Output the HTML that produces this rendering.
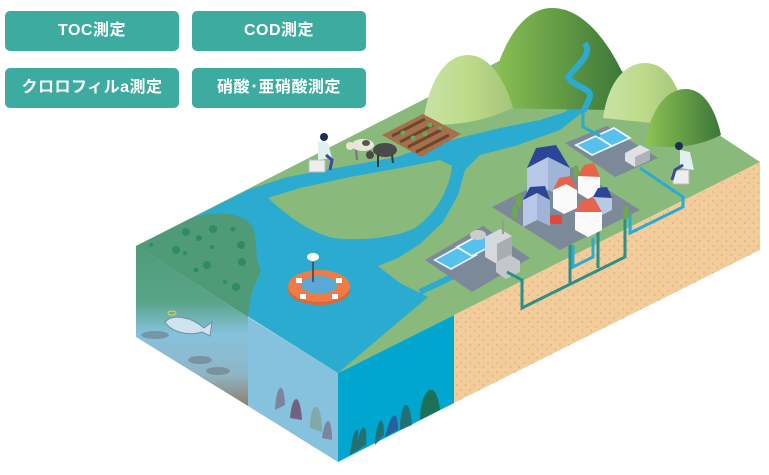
<!DOCTYPE html>
<html><head><meta charset="utf-8">
<style>
html,body{margin:0;padding:0;background:#fff;}
body{width:769px;height:475px;position:relative;overflow:hidden;font-family:"Liberation Sans","Noto Sans CJK JP",sans-serif;}
.b{position:absolute;width:174px;height:40px;background:#3eaba0;border-radius:5px;color:#fff;font-weight:bold;font-size:16px;line-height:40px;text-align:center;letter-spacing:0.5px;}
svg{position:absolute;left:0;top:0;}
</style></head><body>
<svg width="769" height="475" viewBox="0 0 769 475">
<defs>
<linearGradient id="lf" x1="0" y1="0" x2="0" y2="1">
<stop offset="0" stop-color="#4e9a78"/><stop offset="0.35" stop-color="#5aa48a"/><stop offset="0.55" stop-color="#86c2dd"/><stop offset="0.8" stop-color="#8fb6c6"/><stop offset="1" stop-color="#8d806c"/></linearGradient>
<linearGradient id="md" x1="0" y1="0" x2="1" y2="0"><stop offset="0" stop-color="#8fc455"/><stop offset="1" stop-color="#3b7638"/></linearGradient>
<linearGradient id="ml" x1="0" y1="0" x2="1" y2="0"><stop offset="0" stop-color="#c9e2a6"/><stop offset="0.5" stop-color="#bedb8a"/><stop offset="1" stop-color="#a5c47a"/></linearGradient>
<pattern id="dots" width="9" height="9" patternUnits="userSpaceOnUse"><rect width="9" height="9" fill="#f3cc9c"/><circle cx="2" cy="3" r="0.6" fill="#c8946a"/><circle cx="6.5" cy="7" r="0.6" fill="#c8946a"/></pattern>
</defs>
<!-- faces -->
<polygon points="136,246 248,317 248,406 136,337" fill="url(#lf)"/>
<polygon points="248,317 338,373 338,462 248,406" fill="#86c2de"/>
<polygon points="338,373 454,315 454,403 338,462" fill="#00a6cd"/>
<polygon points="454,315 760,162 760,250 454,403" fill="url(#dots)"/>
<!-- top face -->
<polygon points="136,246 560,30 760,162 454,315 338,373" fill="#8aba7b"/>
<!-- water -->
<path d="M136,246 L250,189 L287,177 L347,166 L397,157 L425,147 L463,137 L500,128 L540,120 L565,112 L578,100 L590,100 L583,112 L560,130 L515,146 L480,155 L465,170 L458,195 L443,222 L420,244 L398,258 L378,266 L400,283 L428,297 L338,373 Z" fill="#2babd0"/>
<path d="M420,292 L470,268" stroke="#2babd0" stroke-width="6" fill="none"/>
<!-- leaf land -->
<path d="M268,198 L300,188 L350,177 L400,168 L440,160 L452,166 C450,185 440,210 415,228 C395,238 360,241 333,238 C310,232 290,218 268,198 Z" fill="#8aba7b"/>
<!-- seaweed lagoon -->
<path d="M136,246 L192,218 C215,210 245,212 253,228 C258,240 254,255 260,268 C262,278 250,282 248,317 Z" fill="#4f9b78"/>
<g fill="#2e8a68"><circle cx="186" cy="232" r="4"/><circle cx="213" cy="229" r="4"/><circle cx="233" cy="229" r="2.5"/><circle cx="176" cy="250" r="4"/><circle cx="199" cy="238" r="3"/><circle cx="212" cy="247" r="2"/><circle cx="241" cy="245" r="4"/><circle cx="207" cy="265" r="4"/><circle cx="242" cy="262" r="4"/><circle cx="196" cy="270" r="2.5"/><circle cx="236" cy="287" r="4"/><circle cx="225" cy="282" r="2"/><circle cx="151" cy="245" r="2"/><circle cx="185" cy="253" r="2"/></g>
<!-- mountains -->
<path d="M487,108 C498,45 522,8 552,8 C585,8 610,45 625,78 L610,110 Z" fill="url(#md)"/>
<path d="M585,43 C593,55 576,66 568,77 C572,86 591,88 590,96 C588,104 584,108 583,112" stroke="#2babd0" stroke-width="6" fill="none"/>
<path d="M423,124 C428,82 445,55 468,55 C490,55 506,82 513,108 Q470,128 423,124 Z" fill="url(#ml)"/>
<path d="M603,118 C608,82 625,63 645,63 C665,63 676,82 682,102 L672,125 Z" fill="url(#ml)"/>
<path d="M645,145 C650,110 666,89 686,89 C705,89 716,112 721,135 Q688,152 645,145 Z" fill="url(#md)"/>
<!-- farm -->
<polygon points="382,135 423,114 461,134 421,157" fill="#a5714c"/>
<g stroke="#6d4630" stroke-width="3"><line x1="392" y1="136" x2="425" y2="119"/><line x1="400" y1="142" x2="433" y2="125"/><line x1="408" y1="147" x2="441" y2="130"/><line x1="416" y1="152" x2="449" y2="135"/></g>
<g fill="#5cae5c"><circle cx="403" cy="133" r="2.5"/><circle cx="413" cy="138" r="2.5"/><circle cx="425" cy="134" r="2.5"/><circle cx="430" cy="125" r="2.5"/><circle cx="440" cy="128" r="2"/></g>
<!-- cows -->
<ellipse cx="363" cy="145" rx="11" ry="6" fill="#e8e6d8"/><circle cx="350" cy="146" r="4" fill="#e8e6d8"/><ellipse cx="366" cy="143" rx="4" ry="3" fill="#555"/>
<g stroke="#777" stroke-width="2"><line x1="356" y1="150" x2="357" y2="160"/><line x1="370" y1="150" x2="371" y2="158"/></g>
<ellipse cx="385" cy="150" rx="12" ry="7" fill="#4a4a4a"/><circle cx="370" cy="155" r="4" fill="#4a4a4a"/>
<g stroke="#3a3a3a" stroke-width="2"><line x1="378" y1="155" x2="378" y2="167"/><line x1="392" y1="155" x2="393" y2="163"/></g>
<!-- left person -->
<rect x="309" y="160" width="16" height="12" fill="#eee" stroke="#bbb"/><path d="M318,141 L328,143 L332,158 L318,160 Z" fill="#dff0ef"/><circle cx="324" cy="137" r="4" fill="#1e2d55"/><path d="M326,155 L332,160 L330,170" stroke="#3d4a9a" stroke-width="3" fill="none"/>
<!-- factory -->
<polygon points="425,260 483,226 530,258 472,292" fill="#7c8998"/>
<polygon points="433,260 460,245 478,255 451,270" fill="#e8f4fb"/><polygon points="436,260 460,247 475,255 451,268" fill="#58c0ec"/>
<polygon points="455,247 481,233 498,243 472,257" fill="#e8f4fb"/><polygon points="459,247 481,235 495,243 472,255" fill="#58c0ec"/>
<ellipse cx="478" cy="235" rx="8" ry="5" fill="#ccc"/><polygon points="485,237 500,229 512,236 512,256 497,264 485,257" fill="#d5d9de"/><polygon points="497,264 512,256 512,236 497,244" fill="#a8adb3"/><rect x="502" y="220" width="2" height="14" fill="#999"/>
<polygon points="496,262 510,255 520,261 520,272 506,279 496,272" fill="#c4c8cc"/>
<!-- settling ponds -->
<polygon points="565,143 607,126 658,158 615,177" fill="#7c8998"/>
<polygon points="574,145 596,135 614,146 592,156" fill="#e8f4fb"/><polygon points="578,145 596,137 610,146 592,154" fill="#58c0ec"/>
<polygon points="594,136 614,127 632,138 612,147" fill="#e8f4fb"/><polygon points="598,136 614,129 628,138 612,145" fill="#58c0ec"/>
<polygon points="625,153 640,145 650,150 650,160 635,167 625,161" fill="#dfe1e4"/><polygon points="635,157 650,150 650,160 635,167" fill="#aeb3b8"/>
<!-- pipes -->
<g fill="none" stroke-width="3">
<path d="M583,112 L583,127 L600,136" stroke="#2babd0"/>
<path d="M640,168 L683,197 L683,207 L630,233 L630,213" stroke="#2babd0"/>
<path d="M573,245 L573,267 L593,257 L593,238" stroke="#2babd0"/>
<path d="M507,272 L522,280 L522,308 L625,257 L625,218" stroke="#2e8f86"/>
<path d="M570,243 L570,283" stroke="#2e8f86"/><path d="M598,228 L598,268" stroke="#2e8f86"/>
</g>
<!-- city -->
<polygon points="492,207 572,167 640,210 560,250" fill="#7c8998"/>
<polygon points="527,168 548,157 548,190 527,201" fill="#b7c8e6"/><polygon points="548,157 570,168 570,200 548,190" fill="#9fb4d8"/><polygon points="527,168 536,148 556,145 570,168 548,157" fill="#2d4596"/>
<polygon points="523,200 537,193 537,220 523,227" fill="#b7c8e6"/><polygon points="537,193 550,200 550,226 537,220" fill="#9fb4d8"/><polygon points="523,200 530,187 545,186 550,200 537,193" fill="#2d4596"/>
<polygon points="553,190 566,184 577,190 577,208 564,214 553,208" fill="#fafafa"/><polygon points="553,190 559,178 570,176 577,190 566,184" fill="#e5644b"/>
<polygon points="578,176 590,171 600,177 600,193 588,199 578,193" fill="#fafafa"/><polygon points="578,176 584,165 594,163 600,177" fill="#e5644b"/>
<polygon points="593,197 602,193 612,198 612,210 602,215 593,210" fill="#b7c8e6"/><polygon points="593,197 598,188 607,187 612,198" fill="#2d4596"/>
<polygon points="575,212 590,205 602,212 602,230 588,237 575,230" fill="#fafafa"/><polygon points="575,212 582,200 594,198 602,212" fill="#e5644b"/>
<rect x="550" y="215" width="12" height="9" rx="2" fill="#e2473a"/>
<g fill="#6ea94e"><ellipse cx="519" cy="200" rx="3" ry="7"/><ellipse cx="515" cy="212" rx="3" ry="7"/><ellipse cx="576" cy="172" rx="3" ry="7"/><ellipse cx="626" cy="213" rx="3" ry="7"/></g>
<!-- right person -->
<rect x="673" y="170" width="16" height="14" fill="#eee" stroke="#bbb"/><path d="M680,150 L690,152 L694,170 L680,168 Z" fill="#dff0ef"/><circle cx="679" cy="146" r="4" fill="#1e2d55"/><path d="M683,165 L675,170 L672,180" stroke="#3d4a9a" stroke-width="3" fill="none"/>
<!-- buoy -->
<ellipse cx="319" cy="290" rx="31" ry="15" fill="#d8683c"/>
<ellipse cx="319" cy="286" rx="31" ry="16" fill="#ef7b45"/>
<ellipse cx="319" cy="285" rx="18" ry="9" fill="#5aa8d6"/>
<g fill="#fff"><rect x="296" y="278" width="6" height="5"/><rect x="336" y="278" width="6" height="5"/><rect x="300" y="294" width="6" height="5"/><rect x="332" y="294" width="6" height="5"/></g>
<rect x="312" y="262" width="2" height="20" fill="#555"/><ellipse cx="313" cy="257" rx="6" ry="4" fill="#fff"/>
<!-- fish -->
<path d="M165,322 C172,314 190,316 204,328 L212,322 L210,336 L202,332 C190,336 172,333 165,322 Z" fill="#cfe3ee" stroke="#6f8fa3" stroke-width="1"/>
<ellipse cx="172" cy="313" rx="4" ry="2" fill="none" stroke="#f2d53c" stroke-width="1"/>
<g fill="#6a747a" opacity="0.55"><ellipse cx="155" cy="335" rx="14" ry="4"/><ellipse cx="200" cy="360" rx="12" ry="4"/><ellipse cx="218" cy="371" rx="12" ry="4"/></g>
<!-- seaweed -->
<g fill="#276b6a" opacity="0.9"><path d="M350,455 C352,430 360,420 358,440 C362,420 368,425 366,445 Z"/><path d="M375,445 C376,420 384,410 384,435 Z"/><path d="M400,430 C400,400 410,395 412,425 Z"/><path d="M420,420 C420,390 436,375 440,410 Z" fill="#1f6b4a"/><path d="M385,437 C390,415 398,405 398,430 Z" fill="#2a5a9a"/></g>
<g fill="#7a6a8a" opacity="0.7"><path d="M275,410 C276,385 284,378 285,405 Z"/><path d="M290,418 C292,395 300,390 302,420 Z" fill="#6a3a5a"/><path d="M310,428 C310,400 322,398 322,432 Z" fill="#7f9f8f"/><path d="M322,438 C325,415 332,415 332,440 Z"/></g>
</svg>
<div class="b" style="left:5px;top:11px;">TOC測定</div>
<div class="b" style="left:192px;top:11px;">COD測定</div>
<div class="b" style="left:5px;top:68px;">クロロフィルa測定</div>
<div class="b" style="left:192px;top:68px;">硝酸･亜硝酸測定</div>
</body></html>
